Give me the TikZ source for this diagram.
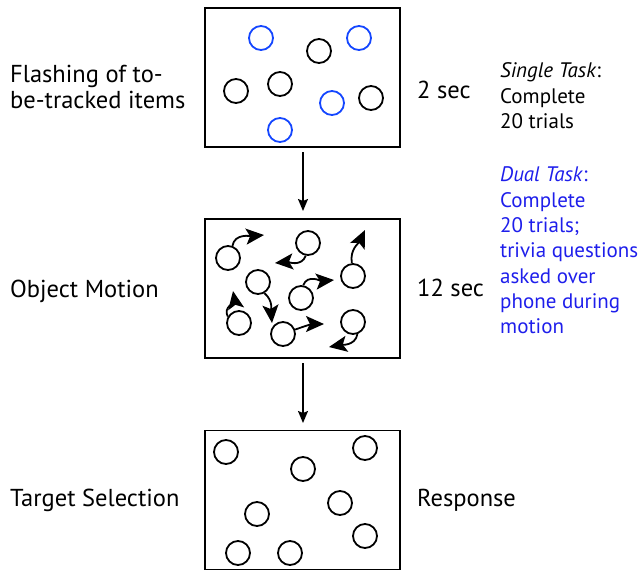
\documentclass[tikz,border=0pt]{standalone}
\usepackage{fontspec}
\setmainfont{PT Sans}
\usetikzlibrary{arrows.meta}
\definecolor{cblue}{RGB}{20,70,255}
\definecolor{tblue}{RGB}{30,30,235}
\tikzset{
  x=1pt,y=-1pt,
  panel/.style={draw=black,line width=1.8pt,minimum width=195pt,minimum height=139pt,inner sep=0pt},
  ball/.style={circle,draw=black,line width=1.8pt,minimum size=24pt,inner sep=0pt},
  bball/.style={ball,draw=cblue},
  flow/.style={line width=1.5pt,-{Stealth[length=12pt,width=10pt,inset=2pt]}},
  motion/.style={line width=1.8pt,-{Stealth[length=18pt,width=16pt,inset=4pt]}},
  lbl/.style={anchor=base west,font=\fontsize{24.5}{26}\selectfont,inner sep=0pt},
  note/.style={anchor=base west,font=\fontsize{21}{25}\selectfont,inner sep=0pt},
}
\begin{document}
\begin{tikzpicture}
\useasboundingbox (0,0) rectangle (638,571);
% panels
\node[panel] (p1) at (302.5,77.5) {};
\node[panel] (p2) at (302.5,288.5) {};
\node[panel] (p3) at (302.5,500) {};
\coordinate (f1a) at (303,152);
\coordinate (f1b) at (303,211);
\coordinate (f2a) at (303,363);
\coordinate (f2b) at (303,423);
\draw[flow] (f1a) -- (f1b);
\draw[flow] (f2a) -- (f2b);
% top panel balls
\node[bball] (t1) at (261,38) {};
\node[bball] (t2) at (359,38) {};
\node[ball] (t3) at (319,51) {};
\node[ball] (t4) at (280,84) {};
\node[ball] (t5) at (236,91) {};
\node[bball] (t6) at (332,103) {};
\node[ball] (t7) at (371,98) {};
\node[bball] (t8) at (280,130) {};
% middle panel balls
\node[ball] (m1) at (228,258) {};
\node[ball] (m2) at (308,243) {};
\node[ball] (m3) at (353,276) {};
\node[ball] (m4) at (258,282) {};
\node[ball] (m5) at (301,298) {};
\node[ball] (m6) at (239,323) {};
\node[ball] (m7) at (283,334) {};
\node[ball] (m8) at (353,322) {};
\coordinate (e1) at (264,235);
\coordinate (e2) at (275,263);
\coordinate (e3) at (365,230);
\coordinate (e4) at (272,323);
\coordinate (e5) at (334,280);
\coordinate (e6) at (233,291);
\coordinate (e7) at (324,324);
\coordinate (e8) at (329,347);
\draw[motion] (m1.70) to[out=80,in=185] (e1);
\draw[motion] (m2.-100) to[out=-110,in=5] (e2);
\draw[motion] (m3.95) to[out=100,in=-115] (e3);
\draw[motion] (m4.-60) to[out=-40,in=95] (e4);
\draw[motion] (m5.80) to[out=70,in=185] (e5);
\draw[motion] (m6.150) to[out=120,in=-80] (e6);
\draw[motion] (m7.20) to[out=20,in=180] (e7);
\draw[motion] (m8.-70) to[out=-100,in=10] (e8);
% bottom panel balls
\node[ball] (r1) at (226,452) {};
\node[ball] (r2) at (365,448) {};
\node[ball] (r3) at (303,469) {};
\node[ball] (r4) at (340,503) {};
\node[ball] (r5) at (257,514) {};
\node[ball] (r6) at (365,536) {};
\node[ball] (r7) at (238,553) {};
\node[ball] (r8) at (290,553) {};
% left labels
\node[lbl] (l1a) at (10,82) {Flashing of to-};
\node[lbl] (l1b) at (10,108) {be-tracked items};
\node[lbl] (l2) at (10,297) {Object Motion};
\node[lbl] (l3) at (10,506) {Target Selection};
% durations
\node[lbl] (s1) at (417,98) {2 sec};
\node[lbl] (s2) at (417,296) {12 sec};
\node[lbl] (s3) at (417,506) {Response};
% task notes
\node[note] (n1) at (500,77) {\textit{Single Task}:};
\node[note] (n2) at (500,103) {Complete};
\node[note] (n3) at (500,128) {20 trials};
\begin{scope}[every node/.append style={text=tblue}]
\node[note] (d1) at (500,181) {\textit{Dual Task}:};
\node[note] (d2) at (500,207) {Complete};
\node[note] (d3) at (500,232) {20 trials;};
\node[note] (d4) at (500,257) {trivia questions};
\node[note] (d5) at (500,283) {asked over};
\node[note] (d6) at (500,308) {phone during};
\node[note] (d7) at (500,333) {motion};
\end{scope}
\end{tikzpicture}
\end{document}
